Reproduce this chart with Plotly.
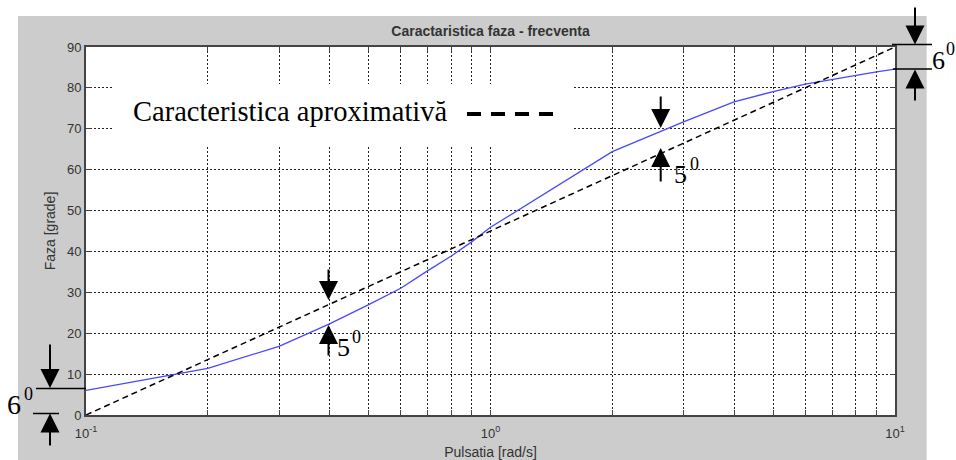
import plotly.graph_objects as go

# ---- data ----
omega = [0.1, 0.2, 0.3, 0.4, 0.5, 0.6, 0.7, 0.8, 0.9, 1.0,
         2.0, 3.0, 4.0, 5.0, 6.0, 7.0, 8.0, 9.0, 10.0]
phase = [6.0, 11.4, 16.8, 22.3, 27.0, 31.0, 35.3, 38.9, 42.4, 45.9,
         64.4, 71.7, 76.6, 79.1, 80.9, 82.1, 83.1, 83.9, 84.6]
approx_x = [0.1, 10.0]
approx_y = [0.0, 90.0]
x_tickvals = [m * 10.0 ** e for e in (-1, 0) for m in range(1, 10)] + [10.0]
x_ticktext = ["10<sup>-1</sup>" if v == 0.1 else "10<sup>0</sup>" if v == 1.0
              else "10<sup>1</sup>" if v == 10.0 else "" for v in x_tickvals]
y_tickvals = list(range(0, 91, 10))

# ---- layout helpers (pixel -> paper) ----
W, H = 956, 460
L, R, T, B = 86, 895, 47, 415
def px(v): return (v - L) / (R - L)
def py(v): return (B - v) / (B - T)

SERIF = "Times New Roman, Liberation Serif, serif"
SANS = "Arial, Liberation Sans, sans-serif"
TXT = "#333333"
AX = "#444444"

fig = go.Figure()
fig.add_trace(go.Scatter(x=omega, y=phase, mode="lines",
                         line=dict(color="#4848ff", width=1.3), showlegend=False))
fig.add_trace(go.Scatter(x=approx_x, y=approx_y, mode="lines",
                         line=dict(color="black", width=1.5, dash="6px,4px"), showlegend=False))

shapes = []
# gray figure background and white axes area
shapes.append(dict(type="rect", xref="paper", yref="paper", layer="below",
                   x0=px(18), x1=px(926.7), y0=py(16), y1=py(470),
                   fillcolor="#cccccc", line=dict(width=0)))
shapes.append(dict(type="rect", xref="paper", yref="paper", layer="below",
                   x0=0, x1=1, y0=0, y1=1, fillcolor="white", line=dict(width=0)))
# white box behind the text label
shapes.append(dict(type="rect", xref="paper", yref="paper", layer="above",
                   x0=px(114), x1=px(572), y0=py(147), y1=py(84),
                   fillcolor="white", line=dict(width=0)))
# dashed legend sample
shapes.append(dict(type="line", xref="paper", yref="paper", layer="above",
                   x0=px(467), x1=px(557), y0=py(114), y1=py(114),
                   line=dict(color="black", width=4, dash="14px,10px")))
# 6 deg marker lines (left bottom)
shapes.append(dict(type="line", xref="paper", yref="paper", layer="above",
                   x0=px(36), x1=px(86), y0=py(388.5), y1=py(388.5),
                   line=dict(color="black", width=1.5)))
shapes.append(dict(type="line", xref="paper", yref="paper", layer="above",
                   x0=px(33), x1=px(59), y0=py(413.5), y1=py(413.5),
                   line=dict(color="black", width=1.5)))
# 6 deg marker lines (top right)
shapes.append(dict(type="line", xref="paper", yref="paper", layer="above",
                   x0=px(892), x1=px(932), y0=py(44.5), y1=py(44.5),
                   line=dict(color="black", width=1.5)))
shapes.append(dict(type="line", xref="paper", yref="paper", layer="above",
                   x0=px(893), x1=px(932), y0=py(69), y1=py(69),
                   line=dict(color="black", width=1.5)))

annotations = []
def arrow(xt, yt, tail_y):
    annotations.append(dict(xref="paper", yref="paper", x=px(xt), y=py(yt),
                            ax=0, ay=tail_y - yt, text="", showarrow=True,
                            arrowhead=2, arrowsize=1.9, arrowwidth=2,
                            arrowcolor="black", standoff=0, startstandoff=0))
arrow(50, 388, 343)
arrow(50, 413.5, 447)
arrow(915, 44.5, 6)
arrow(915, 69.5, 102)
arrow(328.5, 300, 268)
arrow(328.5, 325, 357)
arrow(660.7, 128, 95)
arrow(660.7, 148, 183)

def label(text, xl, yc, size):
    annotations.append(dict(xref="paper", yref="paper", x=px(xl), y=py(yc),
                            xanchor="left", yanchor="middle", text=text,
                            showarrow=False, borderpad=0,
                            font=dict(family=SERIF, size=size, color="black")))
def deg(digit, x_digit, yc_digit, x_sup, yc_sup, size=26):
    label(digit, x_digit, yc_digit, size)
    label("0", x_sup, yc_sup, 18)
deg("6", 6, 404, 23, 394, size=28)
deg("5", 336, 347, 351, 336.5)
deg("5", 673, 174, 689, 164)
deg("6", 931, 60, 945, 49)

annotations.append(dict(xref="paper", yref="paper", x=px(131), y=py(112),
                        xanchor="left", yanchor="middle",
                        text="Caracteristica aproximativă", showarrow=False,
                        font=dict(family=SERIF, size=28.5, color="black")))

fig.update_layout(
    width=W, height=H,
    margin=dict(l=L, r=W - R, t=T, b=H - B, pad=0, autoexpand=False),
    paper_bgcolor="white", plot_bgcolor="white",
    title=dict(text="<b>Caractaristica faza - frecventa</b>", x=(L + R) / 2 / W,
               xanchor="center", y=1 - 31 / H, yanchor="middle",
               font=dict(family=SANS, size=14, color=TXT)),
    shapes=shapes, annotations=annotations,
    showlegend=False,
)
fig.update_xaxes(type="log", range=[-1, 1], tickvals=x_tickvals, ticktext=x_ticktext,
                 automargin=False,
                 showgrid=True, gridcolor="#222222", gridwidth=1, griddash="2px,2px",
                 showline=True, linecolor=AX, linewidth=2, mirror="ticks",
                 ticks="inside", ticklen=5, tickcolor=AX, tickwidth=1,
                 ticklabelstandoff=5,
                 tickfont=dict(family=SANS, size=13, color=TXT),
                 title=dict(text="Pulsatia [rad/s]", standoff=10,
                            font=dict(family=SANS, size=14, color=TXT)),
                 zeroline=False)
fig.update_yaxes(range=[0, 90], tickvals=y_tickvals, automargin=False,
                 showgrid=True, gridcolor="#222222", gridwidth=1, griddash="2px,2px",
                 showline=True, linecolor=AX, linewidth=2, mirror="ticks",
                 ticks="inside", ticklen=5, tickcolor=AX, tickwidth=1,
                 tickfont=dict(family=SANS, size=13, color=TXT),
                 title=dict(text="Faza [grade]", standoff=8,
                            font=dict(family=SANS, size=14, color=TXT)),
                 zeroline=False)

fig.write_html("out.html")
